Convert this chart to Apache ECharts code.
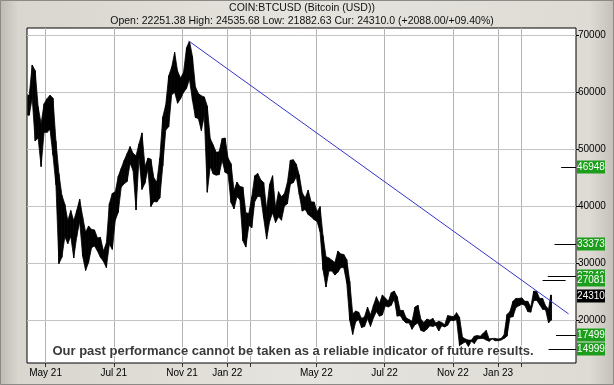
<!DOCTYPE html>
<html><head><meta charset="utf-8">
<script src="https://cdn.jsdelivr.net/npm/echarts@6/dist/echarts.min.js"></script>
<style>html,body{margin:0;padding:0;background:#e4e1da}#c{width:614px;height:385px}</style>
</head><body><div id="c"></div>
<script>
const titleText = 'COIN:BTCUSD (Bitcoin (USD))';
const subtitleText = 'Open: 22251.38 High: 24535.68 Low: 21882.63 Cur: 24310.0 (+2088.00/+09.40%)';
const disclaimer = 'Our past performance cannot be taken as a reliable indicator of future results.';

// 4-day windows starting at startDate: low / high of each window (USD)
const startDate = '2021-04-07';
const endDate = '2023-03-14';
const stepDays = 4;
const lows = [
56000,59000,51500,52000,47000,53000,53000,53500,49000,43800,
30000,31100,34700,33500,34800,31000,34700,37400,31300,28800,
30200,32800,33100,32200,31100,30400,29300,33400,32500,37600,
39000,43400,44000,44400,47600,46300,39400,48600,43000,44100,
46600,40000,40900,40800,41500,47100,53400,54000,59600,60000,
58100,58900,60000,60700,62300,58600,55600,55400,53300,55900,
42500,47000,45700,45500,45600,48100,46000,45700,40700,39600,
41700,41200,34000,32900,36700,36300,40900,41800,41700,38000,
34300,37400,38900,37200,38200,37600,40100,40500,43900,44200,
45200,42100,39200,39500,38600,38200,37700,37400,35600,28900,
25900,28700,28700,28000,28500,29300,29300,26600,20100,17600,
19800,20200,18800,19000,20400,19000,20500,21600,20800,21000,
22600,22400,22700,23800,20800,20900,20100,19600,19600,18500,
19300,19600,18300,18100,18500,19100,19000,19200,18200,19100,
18900,19200,20100,20000,20200,15600,16000,16300,15500,16400,
16000,16800,16900,16900,16600,16400,16800,16500,16500,16600,
16900,17300,20600,20700,22300,22600,22900,22700,21600,21500,
23500,23600,22800,22000,21900,19600,20100];
const highs = [
59500,64800,63800,57500,54500,58000,58900,59500,59000,51500,
45800,42000,40400,37500,39300,37500,39300,41300,38200,35500,
36600,36000,35900,34500,34600,32200,33600,40500,42300,42600,
45300,46700,48100,49300,50500,49300,48900,51000,52900,47000,
48500,48300,45000,44300,48500,55700,57800,62900,64400,67000,
63700,62500,63500,67800,69000,66300,61000,59800,59400,59200,
57600,51900,50800,49500,49600,51900,52000,48500,47500,42800,
44300,43500,43400,38900,38800,41700,45400,45800,44700,44200,
39500,43900,45400,39800,42600,41700,42300,44200,48100,48200,
47400,45500,42400,41500,42900,40800,40800,39100,40000,34900,
31200,31000,30600,30200,32200,31700,31600,30700,26900,21200,
21700,21500,20400,20700,22400,21000,22700,24200,23000,24500,
24000,23400,24900,25200,24200,21800,21800,20500,20200,19900,
22400,22700,20200,19700,20300,20100,20400,19600,19900,19700,
19300,20900,20800,20700,21400,20600,17100,16800,16600,16600,
17300,17400,17300,17800,18300,16800,16900,16900,16800,16900,
17500,21100,21600,23400,23900,23900,24000,23400,23400,22400,
25200,25100,23900,23900,22600,22000,24500];

const axisStart = '2021-04-06';
const axisEnd = '2023-04-16';
const yMin = 12592, yMax = 71278;
const tickDates = ['2021-05-01','2021-08-01','2021-11-01','2022-01-01','2022-02-01','2022-05-01','2022-08-01','2022-11-01','2023-01-01','2023-02-01'];
const tickLabels = ['May 21','Jul 21','Nov 21','Jan 22','','May 22','Jul 22','Nov 22','Jan 23',''];
const yLabelValues = [20000,30000,40000,50000,60000,70000];
const yMinorValues = [15000,25000,35000,45000,55000,65000];
const trendLine = [['2021-11-10',69000],['2023-04-06',21200]];
const levelLines = [
  {value:46948, from:'2023-03-27', to:axisEnd},
  {value:33373, from:'2023-03-18', to:axisEnd},
  {value:27846, from:'2023-03-09', to:axisEnd},
  {value:27081, from:'2023-03-02', to:'2023-04-02'},
  {value:17499, from:'2023-03-20', to:axisEnd},
  {value:14999, from:'2023-03-10', to:axisEnd}
];
const tags = [
  {value:46948, text:'46948', color:'#1c9e1c'},
  {value:33373, text:'33373', color:'#1c9e1c'},
  {value:27846, text:'27846', color:'#1c9e1c'},
  {value:27081, text:'27081', color:'#1c9e1c'},
  {value:24310, text:'24310', color:'#000000'},
  {value:17499, text:'17499', color:'#1c9e1c'},
  {value:14999, text:'14999', color:'#1c9e1c'}
];

const DAY = 86400000;
const ts = s => new Date(s + 'T00:00:00Z').getTime();
const t0 = ts(startDate), tEnd = ts(endDate);
const barData = lows.map((l, i) => [t0 + i * stepDays * DAY, l, highs[i]]);
const centerOf = i => { const s = barData[i][0]; return (s + Math.min(s + stepDays * DAY, tEnd)) / 2; };
const labelMap = {};
tickDates.forEach((d, i) => { labelMap[ts(d)] = tickLabels[i]; });
const labelDates = tickDates.filter((d, i) => tickLabels[i] !== '').map(ts);
const FONT = '"Liberation Sans", Arial, sans-serif';
const gridLineData = [
  ...tickDates.map(d => ({coords: [[ts(d), yMin], [ts(d), yMax]], lineStyle: {color: '#b4b4b4'}})),
  ...yLabelValues.map(v => ({coords: [[ts(axisStart), v], [ts(axisEnd), v]], lineStyle: {color: '#c4c4c4'}}))
];

const chart = echarts.init(document.getElementById('c'), null, {renderer: 'canvas'});
const option = {
  animation: false,
  backgroundColor: 'transparent',
  grid: {left: 27, right: 38, top: 28, bottom: 22, show: true, backgroundColor: '#ffffff', borderColor: '#000000', borderWidth: 1, z: 1},
  xAxis: {
    type: 'value', min: ts(axisStart), max: ts(axisEnd),
    axisLine: {show: false},
    axisTick: {show: true, customValues: tickDates.map(ts), length: 4, lineStyle: {color: '#333'}},
    axisLabel: {customValues: labelDates, formatter: v => labelMap[v] || '', color: '#000', fontSize: 10, fontFamily: FONT, margin: 5, hideOverlap: false},
    splitLine: {show: false}
  },
  yAxis: [
    {type: 'value', position: 'right', min: yMin, max: yMax,
     axisLine: {show: false},
     axisTick: {show: true, customValues: yLabelValues, length: 3, lineStyle: {color: '#000'}},
     axisLabel: {customValues: yLabelValues, formatter: v => String(v), color: '#000', fontSize: 10, fontFamily: FONT, margin: 2},
     splitLine: {show: false}},
    {type: 'value', position: 'right', min: yMin, max: yMax,
     axisLine: {show: false},
     axisTick: {show: true, inside: true, customValues: yMinorValues, length: 3, lineStyle: {color: '#000'}},
     axisLabel: {show: false}, splitLine: {show: false}},
    {type: 'value', position: 'left', min: yMin, max: yMax,
     axisLine: {show: false},
     axisTick: {show: true, inside: true, customValues: yMinorValues, length: 3, lineStyle: {color: '#000'}},
     axisLabel: {show: false}, splitLine: {show: false}}
  ],
  series: [
    {type: 'lines', coordinateSystem: 'cartesian2d', z: 2, silent: true,
     data: gridLineData, lineStyle: {width: 1, opacity: 1}},
    {type: 'custom', name: 'BTCUSD', data: barData, encode: {x: 0, y: [1, 2]}, z: 3,
     renderItem: (params, api) => {
       const i = params.dataIndex;
       const last = barData.length - 1;
       const ta = i === 0 ? barData[0][0] : centerOf(i);
       const tb = i === last ? tEnd : centerOf(i + 1);
       const j = i === last ? i : i + 1;
       const pts = (i === 0 || i === last) ? null : null;
       const hiA = api.coord([ta, barData[i][2]]), loA = api.coord([ta, barData[i][1]]);
       const segs = [];
       if (i === 0) {
         const c = centerOf(0);
         const h = api.coord([c, barData[0][2]]), l = api.coord([c, barData[0][1]]);
         segs.push([hiA, h, l, loA]);
         const h2 = api.coord([centerOf(1), barData[1][2]]), l2 = api.coord([centerOf(1), barData[1][1]]);
         segs.push([h, h2, l2, l]);
       } else {
         const hiB = api.coord([tb, barData[j][2]]), loB = api.coord([tb, barData[j][1]]);
         segs.push([hiA, hiB, loB, loA]);
       }
       return {type: 'group', children: segs.map(p => ({type: 'polygon', shape: {points: p}, style: {fill: '#000', stroke: '#000', lineWidth: 0.8}}))};
     }},
    {type: 'line', data: trendLine.map(p => [ts(p[0]), p[1]]), symbol: 'none', z: 4,
     lineStyle: {color: '#3434c8', width: 1}},
    {type: 'lines', coordinateSystem: 'cartesian2d', z: 4,
     data: levelLines.map(l => ({coords: [[ts(l.from), l.value], [ts(l.to), l.value]]})),
     lineStyle: {color: '#000', width: 1, opacity: 1}},
    {type: 'custom', clip: false, z: 10,
     data: tags.map((t, i) => [ts(axisEnd), t.value, i]), encode: {x: 0, y: 1},
     renderItem: (params, api) => {
       const p = api.coord([api.value(0), api.value(1)]);
       const tg = tags[api.value(2)];
       return {type: 'group', children: [
         {type: 'rect', shape: {x: p[0] + 1, y: Math.round(p[1]) - 6.5, width: 28, height: 13}, style: {fill: tg.color}},
         {type: 'text', style: {x: p[0] + 15, y: Math.round(p[1]), text: tg.text, fill: '#fff', align: 'center', verticalAlign: 'middle', font: '10px ' + FONT}}
       ]};
     }}
  ],
  graphic: [
    {type: 'rect', z: -100, silent: true, shape: {x: 0, y: 0, width: 614, height: 385},
     style: {fill: new echarts.graphic.LinearGradient(0, 0, 1, 0, [
       {offset: 0, color: '#bfbbb3'}, {offset: 0.03, color: '#d9d6cf'}, {offset: 0.5, color: '#e6e4de'},
       {offset: 0.96, color: '#dedbd5'}, {offset: 1, color: '#c4c0b9'}])}},
    {type: 'rect', z: -99, silent: true, shape: {x: 0.5, y: 0.5, width: 613, height: 384}, style: {fill: 'none', stroke: '#8c8a86', lineWidth: 1}},
    {type: 'text', z: 20, silent: true, style: {x: 302, y: 8, text: titleText, align: 'center', verticalAlign: 'middle', fill: '#111', font: '10.5px ' + FONT}},
    {type: 'text', z: 20, silent: true, style: {x: 302, y: 21, text: subtitleText, align: 'center', verticalAlign: 'middle', fill: '#111', font: '10.5px ' + FONT}},
    {type: 'text', z: 20, silent: true, style: {x: 293, y: 351, text: disclaimer, align: 'center', verticalAlign: 'middle', fill: '#3a3a3a', font: 'bold 13px ' + FONT, stroke: '#ffffff', lineWidth: 2}}
  ]
};
chart.setOption(option);
</script>
</body></html>
